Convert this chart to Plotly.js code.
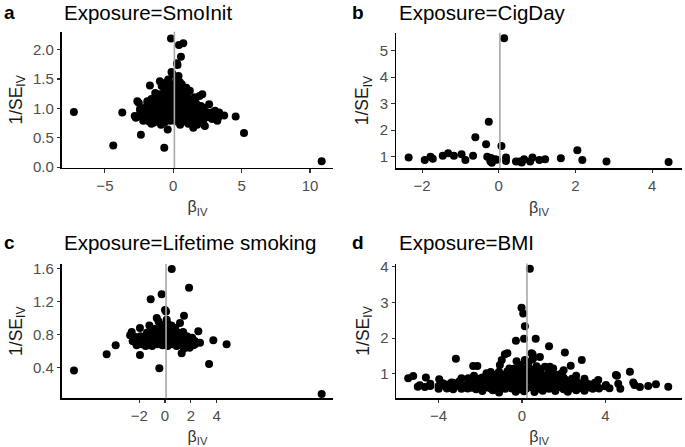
<!DOCTYPE html>
<html>
<head>
<meta charset="utf-8">
<script src="https://cdn.plot.ly/plotly-3.0.1.min.js"></script>
<style>html,body{margin:0;padding:0;background:#fff;}#plot{width:685px;height:447px;}</style>
</head>
<body>
<div id="plot"></div>
<script>
// ---------- DATA ----------
const panelLetters = ["a", "b", "c", "d"];
const exposureTitles = ["Exposure=SmoInit", "Exposure=CigDay", "Exposure=Lifetime smoking", "Exposure=BMI"];
const ivwEstimate = [0.08, 0.03, 0.08, 0.24];   // grey vertical reference line

// [beta_IV, 1/SE_IV]
const pointsSmoInit = [
  [-7.27,0.94],[-4.39,0.37],[-3.73,0.93],[-2.37,0.55],[-0.66,0.33],[-0.41,0.64],[-0.17,2.19],[0.41,2.08],
  [0.73,2.11],[0.56,1.88],[0.27,1.77],[0.31,1.74],[-0.13,1.62],[-0.05,1.58],[4.56,0.86],[5.17,0.58],
  [10.85,0.10],[3.05,0.96],[3.72,0.88],[3.22,0.79],[2.62,1.07],[2.31,0.70],[1.46,0.67],[2.12,1.24],
  [1.92,1.21],[-2.63,1.12],[-2.52,1.09],[-2.82,0.87],[-2.74,0.84],[-2.44,0.98],[-1.71,1.39],[-1.41,0.76],
  [-0.98,1.46],[-0.66,1.32],[-0.37,1.49],[-0.52,1.44],[0.22,1.50],[0.47,1.45],[0.62,1.41],[0.38,1.55],
  [-1.18,1.22],[-1.32,1.26],[1.21,1.30],[1.55,1.19],[2.02,1.04],[2.42,0.94],[2.72,0.88],[3.35,0.93],
  [2.85,0.82],[3.30,0.85],[-2.10,0.90],[-1.90,1.12],[0.95,1.35],[-0.85,1.38],[1.75,0.72],[-0.90,0.72],
  [0.50,0.72],[-1.60,0.74],[1.10,0.74],
  [-2.2,0.79],[-1.8,0.78],[-1.4,0.80],[-1.0,0.78],[-0.6,0.77],[-0.2,0.79],[0.2,0.78],[0.6,0.80],
  [1.0,0.77],[1.4,0.79],[1.8,0.78],[2.2,0.80],
  [-2.6,0.86],[-2.2,0.85],[-1.8,0.84],[-1.4,0.86],[-1.0,0.85],[-0.6,0.84],[-0.2,0.86],[0.2,0.85],
  [0.6,0.84],[1.0,0.86],[1.4,0.85],[1.8,0.84],[2.2,0.86],[2.6,0.85],[3.0,0.84],
  [-2.4,0.92],[-2.0,0.93],[-1.6,0.91],[-1.2,0.92],[-0.8,0.93],[-0.4,0.92],[0.0,0.91],[0.4,0.93],
  [0.8,0.92],[1.2,0.91],[1.6,0.93],[2.0,0.92],[2.4,0.91],[2.8,0.93],
  [-2.2,1.00],[-1.8,0.99],[-1.4,1.01],[-1.0,1.00],[-0.6,0.99],[-0.2,1.01],[0.2,1.00],[0.6,0.99],
  [1.0,1.01],[1.4,1.00],[1.8,0.99],[2.2,1.01],
  [-1.9,1.07],[-1.5,1.08],[-1.1,1.09],[-0.7,1.07],[-0.3,1.08],[0.1,1.09],[0.5,1.07],[0.9,1.08],
  [1.3,1.09],[1.7,1.07],
  [-1.6,1.16],[-1.2,1.15],[-0.8,1.17],[-0.4,1.16],[0.0,1.15],[0.4,1.17],[0.8,1.16],[1.2,1.15],[1.6,1.14],
  [-1.0,1.24],[-0.6,1.23],[-0.2,1.25],[0.2,1.24],[0.6,1.23],[1.0,1.25],
  [-0.5,1.32],[-0.1,1.31],[0.3,1.33],[0.7,1.30],[-0.2,1.40],[0.1,1.42]
];

const pointsCigDay = [
  [-2.35,0.97],[-1.93,0.87],[-1.78,1.00],[-1.72,0.92],[-1.46,1.03],[-1.32,1.13],[-1.17,1.03],[-0.97,1.09],
  [-0.87,0.87],[-0.67,1.03],[-0.61,1.73],[-0.33,1.47],[-0.26,2.32],[-0.30,1.00],[-0.20,0.95],[-0.22,0.83],
  [-0.18,0.77],[-0.10,0.90],[-0.05,0.88],[0.07,1.40],[0.14,5.47],[0.19,0.97],[0.19,0.84],[0.45,0.82],
  [0.54,0.82],[0.66,0.90],[0.60,0.78],[0.82,0.82],[0.88,0.97],[1.06,0.87],[1.21,0.90],[1.62,0.94],
  [2.05,1.24],[2.18,0.87],[2.81,0.82],[4.43,0.80]
];

const pointsLifetime = [
  [-7.05,0.36],[12.13,0.075],[-4.52,0.56],[-3.82,0.67],[-1.94,0.55],[-0.44,0.39],[3.41,0.44],[4.77,0.68],
  [3.74,0.73],[2.58,0.84],[1.86,1.37],[0.52,1.60],[-0.26,1.29],[-1.11,1.23],[0.00,1.10],[0.08,1.08],
  [0.13,0.98],[-0.64,1.00],[-0.50,0.96],[1.47,1.03],[1.16,0.94],[-1.21,0.91],[-1.94,0.88],[-2.58,0.83],
  [-2.70,0.79],[1.29,0.57],[1.47,0.63],[2.32,0.68],[2.71,0.70],[-2.20,0.68],[-2.50,0.72],[1.90,0.64],
  [0.90,0.66],[-1.50,0.66],
  [-2.2,0.67],[-1.8,0.68],[-1.4,0.67],[-1.0,0.66],[-0.6,0.68],[-0.2,0.67],[0.2,0.66],[0.6,0.68],
  [1.0,0.67],[1.4,0.66],[1.8,0.68],[2.2,0.67],
  [-2.5,0.72],[-2.1,0.73],[-1.7,0.71],[-1.3,0.72],[-0.9,0.73],[-0.5,0.71],[-0.1,0.72],[0.3,0.73],
  [0.7,0.71],[1.1,0.72],[1.5,0.73],[1.9,0.71],[2.3,0.72],
  [-2.3,0.77],[-1.9,0.78],[-1.5,0.76],[-1.1,0.77],[-0.7,0.78],[-0.3,0.76],[0.1,0.77],[0.5,0.78],
  [0.9,0.76],[1.3,0.77],[1.7,0.78],[2.1,0.76],
  [-1.4,0.82],[-1.0,0.83],[-0.6,0.81],[-0.2,0.82],[0.2,0.83],[0.6,0.81],[1.0,0.82],[1.4,0.83],
  [-0.8,0.87],[-0.4,0.88],[0.0,0.86],[0.4,0.87],[0.8,0.88],
  [-0.3,0.92],[0.2,0.93],[0.5,0.91]
];

const pointsBMI = [
  [0.38,3.94],[-0.02,2.85],[0.06,2.69],[0.14,2.33],[0.10,1.98],[0.66,1.98],[-0.29,1.93],[1.30,1.77],
  [2.06,1.60],[2.87,1.39],[2.34,1.23],[-3.17,1.42],[-2.34,1.22],[-2.14,1.22],[-0.82,1.55],[-0.70,1.58],
  [-0.97,1.39],[0.51,1.55],[0.86,1.47],[0.46,1.58],[0.54,1.44],[0.14,1.39],[-0.26,1.35],[-1.06,1.25],
  [1.34,1.20],[-1.70,1.02],[-5.46,0.88],[-5.22,0.94],[-4.90,0.68],[-4.66,0.63],[-4.61,0.90],[-3.97,0.85],
  [-4.00,0.66],[-3.38,0.76],[-2.58,0.88],[4.51,0.97],[5.18,1.06],[4.62,0.72],[3.66,0.83],[4.03,0.69],
  [5.34,0.76],[5.66,0.63],[6.06,0.66],[6.43,0.71],[7.02,0.64],[4.20,0.60],[4.56,0.95],[4.72,0.58],
  [5.40,0.69],[-5.00,0.64],[-4.40,0.72],[-3.60,0.62],
  [-1.1,0.48],[-0.3,0.50],[0.1,0.51],[0.6,0.49],[1.6,0.52],[2.2,0.50],[-1.9,0.52],[3.0,0.53],
  [-4.0,0.58],[-3.6,0.59],[-3.3,0.57],[-2.9,0.58],[-2.6,0.59],[-2.2,0.57],[-1.9,0.58],[-1.5,0.59],
  [-1.2,0.57],[-0.8,0.58],[-0.5,0.59],[-0.1,0.57],[0.2,0.58],[0.6,0.59],[0.9,0.57],[1.3,0.58],
  [1.6,0.59],[2.0,0.57],[2.3,0.58],[2.7,0.59],[3.0,0.57],[3.4,0.58],[3.7,0.59],
  [-4.4,0.66],[-3.9,0.67],[-3.5,0.65],[-3.1,0.66],[-2.8,0.67],[-2.4,0.65],[-2.0,0.66],[-1.7,0.67],
  [-1.3,0.65],[-1.0,0.66],[-0.6,0.67],[-0.3,0.65],[0.1,0.66],[0.4,0.67],[0.8,0.65],[1.1,0.66],
  [1.5,0.67],[1.8,0.65],[2.2,0.66],[2.5,0.67],[2.9,0.65],[3.2,0.66],[3.6,0.67],[4.0,0.65],
  [-3.8,0.74],[-3.3,0.75],[-2.6,0.73],[-2.2,0.74],[-1.8,0.75],[-1.5,0.73],[-1.1,0.74],[-0.8,0.75],
  [-0.4,0.73],[-0.1,0.74],[0.3,0.75],[0.6,0.73],[1.0,0.74],[1.3,0.75],[1.7,0.73],[2.0,0.74],
  [2.4,0.75],[2.8,0.73],[3.1,0.74],[3.5,0.75],
  [-2.5,0.82],[-2.1,0.83],[-1.7,0.81],[-1.4,0.82],[-1.0,0.83],[-0.7,0.81],[-0.3,0.82],[0.0,0.83],
  [0.4,0.81],[0.7,0.82],[1.1,0.83],[1.4,0.81],[1.8,0.82],[2.1,0.83],[2.6,0.81],
  [-1.9,0.90],[-1.5,0.91],[-1.2,0.89],[-0.8,0.90],[-0.5,0.91],[-0.1,0.89],[0.2,0.90],[0.6,0.91],
  [0.9,0.89],[1.3,0.90],[1.6,0.91],[2.0,0.89],
  [-1.6,0.98],[-1.2,0.99],[-0.9,0.97],[-0.5,0.98],[-0.2,0.99],[0.2,0.97],[0.5,0.98],[0.9,0.99],
  [1.2,0.97],[1.6,0.98],
  [-1.1,1.06],[-0.7,1.07],[-0.3,1.05],[0.1,1.06],[0.5,1.07],[0.9,1.05],[1.3,1.06],
  [-0.4,1.14],[0.0,1.15],[0.4,1.13],[0.8,1.14],[1.4,1.13],[-0.6,1.15],[1.5,1.15],[2.0,1.10],
  [-1.5,1.05],[-2.3,0.95],[2.6,0.95],[-2.9,0.88],[3.0,0.86],
  [-0.1,1.22],[0.3,1.23],[0.7,1.21],[0.3,1.30],[0.5,1.40],[-0.1,1.25],[1.1,1.20],
  [-3.0,0.79],[-2.0,0.87],[-0.9,0.95],[1.8,0.95],[2.4,0.86],[3.3,0.70],[-3.6,0.70],[-2.7,0.62],
  [-1.4,0.54],[1.0,0.53],[2.6,0.54],[-0.6,1.02],[0.7,1.02],[1.9,1.02],[-1.3,0.78],[0.9,0.78],
  [-3.4,0.62],[-2.4,0.61],[-1.7,0.62],[-0.9,0.62],[-0.2,0.61],[0.5,0.62],[1.2,0.61],[1.9,0.62],[2.6,0.62],[3.3,0.61],
  [-3.0,0.70],[-2.2,0.70],[-1.5,0.69],[-0.8,0.70],[-0.1,0.69],[0.6,0.70],[1.3,0.69],[2.0,0.70],[2.7,0.69],
  [-2.3,0.78],[-1.6,0.78],[-0.9,0.77],[-0.2,0.78],[0.5,0.77],[1.2,0.78],[1.9,0.77],[2.6,0.77],
  [-1.7,0.86],[-1.0,0.86],[-0.3,0.87],[0.4,0.86],[1.1,0.87],[1.8,0.86],
  [-1.3,0.94],[-0.6,0.94],[0.1,0.95],[0.8,0.94],[1.4,0.94]
];

const xTickVals = [[-5,0,5,10],[-2,0,2,4],[-2,0,2,4],[-4,0,4]];
const yTickVals = [[0,0.5,1,1.5,2],[1,2,3,4,5],[0.4,0.8,1.2,1.6],[1,2,3,4]];
const yTickFormat = [".1f", "d", ".1f", "d"];

// ---------- LAYOUT GEOMETRY (pixels) ----------
const W = 685, H = 447;
const boxes = [
  {l:61.7, r:333.3, t:31.7, b:168.0, xr:[-8.16,11.7],  yr:[-0.015,2.305]},
  {l:396.0, r:682.0, t:32.7, b:168.3, xr:[-2.68,4.78],  yr:[0.56,5.68]},
  {l:61.7, r:333.3, t:264.0, b:398.3, xr:[-8.0,13.03],  yr:[0.022,1.66]},
  {l:396.3, r:682.0, t:263.5, b:398.3, xr:[-6.03,7.68], yr:[0.316,4.09]}
];
const allPoints = [pointsSmoInit, pointsCigDay, pointsLifetime, pointsBMI];

const FONT = "Liberation Sans, Arial, sans-serif";
const traces = [];
const layout = {
  width: W, height: H,
  margin: {l:0, r:0, t:0, b:0},
  paper_bgcolor: "#fff", plot_bgcolor: "#fff",
  showlegend: false,
  font: {family: FONT, color: "#000", size: 14},
  shapes: [], annotations: []
};

boxes.forEach((bx, i) => {
  const sfx = i === 0 ? "" : String(i + 1);
  const pts = allPoints[i];
  traces.push({
    type: "scatter", mode: "markers",
    x: pts.map(p => p[0]), y: pts.map(p => p[1]),
    xaxis: "x" + sfx, yaxis: "y" + sfx,
    marker: {color: "#000", size: 8, line: {width: 0}},
    hoverinfo: "skip"
  });
  const common = {
    showgrid: false, zeroline: false, showline: true, linecolor: "#000", linewidth: 1.3,
    ticks: "outside", ticklen: 3.5, tickwidth: 1.1, tickcolor: "#333",
    tickfont: {family: FONT, size: 15, color: "#4D4D4D"},
    automargin: false, fixedrange: true
  };
  layout["xaxis" + sfx] = Object.assign({}, common, {
    domain: [bx.l / W, bx.r / W], range: bx.xr, anchor: "y" + sfx,
    tickmode: "array", tickvals: xTickVals[i],
    title: {text: "β<sub>IV</sub>", font: {family: FONT, size: 16, color: "#333"}, standoff: 8}
  });
  layout["yaxis" + sfx] = Object.assign({}, common, {
    domain: [1 - bx.b / H, 1 - bx.t / H], range: bx.yr, anchor: "x" + sfx,
    tickmode: "array", tickvals: yTickVals[i], tickformat: yTickFormat[i],
    title: {text: "1/SE<sub>IV</sub>", font: {family: FONT, size: 17.5, color: "#1a1a1a"}, standoff: 6}
  });
  layout.shapes.push({
    type: "line", xref: "x" + sfx, yref: "y" + sfx + " domain",
    x0: ivwEstimate[i], x1: ivwEstimate[i], y0: 0, y1: 1,
    line: {color: "#a8a8a8", width: 1.6}, layer: "above"
  });
  const titleY = i < 2 ? 12.5 : 242.5;
  const letterX = i % 2 === 0 ? 2 : 350;
  layout.annotations.push({
    text: "<b>" + panelLetters[i] + "</b>", xref: "paper", yref: "paper",
    x: letterX / W, y: 1 - titleY / H, xanchor: "left", yanchor: "middle",
    showarrow: false, font: {family: FONT, size: 19, color: "#000"}
  });
  layout.annotations.push({
    text: exposureTitles[i], xref: "paper", yref: "paper",
    x: (bx.l + 0.5) / W, y: 1 - titleY / H, xanchor: "left", yanchor: "middle",
    showarrow: false, font: {family: FONT, size: 20.5, color: "#000"}
  });
});

Plotly.newPlot("plot", traces, layout, {displayModeBar: false, staticPlot: true});
</script>
</body>
</html>
